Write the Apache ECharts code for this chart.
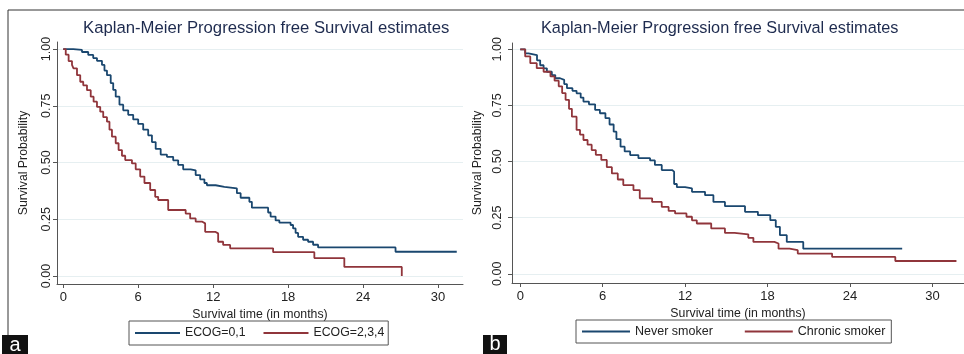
<!DOCTYPE html>
<html>
<head>
<meta charset="utf-8">
<script src="https://cdn.jsdelivr.net/npm/echarts@6/dist/echarts.min.js"></script>
<style>
  html, body { margin: 0; padding: 0; background: #fff; }
  #chart { width: 964px; height: 354px; }
</style>
</head>
<body>
<div id="chart"></div>
<script>
// 读图估计的 KM 阶梯点 (月, 生存概率)
const ecogLowTime = [0, 0.8, 1.5, 2.0, 2.4, 2.7, 3.1, 3.3, 3.5, 3.8, 4.0, 4.2, 4.5, 4.8, 5.2, 5.6, 6.0, 6.4, 6.8, 7.1, 7.4, 7.8, 8.3, 8.8, 9.2, 9.6, 10.2, 10.6, 10.96, 11.3, 11.5, 12.2, 12.9, 13.9, 14.2, 14.9, 15.1, 16.4, 16.6, 17.0, 17.3, 18.2, 18.4, 18.6, 18.8, 19.2, 19.6, 20.0, 20.4, 26.6, 31.5]
const ecogLowSurv = [1.0, 0.996, 0.987, 0.974, 0.96, 0.948, 0.93, 0.905, 0.885, 0.85, 0.82, 0.79, 0.755, 0.73, 0.71, 0.69, 0.67, 0.645, 0.62, 0.59, 0.56, 0.535, 0.525, 0.51, 0.49, 0.47, 0.466, 0.445, 0.426, 0.41, 0.4, 0.393, 0.386, 0.365, 0.345, 0.327, 0.301, 0.28, 0.262, 0.245, 0.235, 0.225, 0.21, 0.19, 0.173, 0.16, 0.151, 0.138, 0.126, 0.107, 0.107]

const ecogHighTime = [0, 0.2, 0.43, 0.7, 0.82, 1.1, 1.36, 1.6, 1.9, 2.2, 2.43, 2.7, 2.96, 3.2, 3.5, 3.7, 3.9, 4.2, 4.43, 4.7, 4.96, 5.5, 5.8, 6.16, 6.5, 6.96, 7.36, 7.6, 8.4, 9.8, 10.16, 10.6, 11.1, 11.36, 12.16, 12.4, 12.8, 13.36, 16.8, 20.1, 22.5, 27.1]
const ecogHighSurv = [1.0, 0.975, 0.947, 0.93, 0.915, 0.885, 0.856, 0.84, 0.819, 0.79, 0.768, 0.745, 0.724, 0.7, 0.68, 0.645, 0.614, 0.585, 0.555, 0.53, 0.511, 0.496, 0.47, 0.438, 0.41, 0.379, 0.349, 0.335, 0.291, 0.275, 0.254, 0.24, 0.232, 0.195, 0.188, 0.151, 0.137, 0.122, 0.105, 0.079, 0.04, 0.0]

const neverTime = [0, 0.36, 0.6, 1.22, 1.45, 1.7, 1.94, 2.3, 2.55, 2.9, 3.2, 3.4, 3.8, 4.1, 4.4, 4.6, 5.0, 5.45, 5.8, 6.2, 6.5, 6.8, 7.0, 7.3, 7.6, 8.0, 8.6, 9.45, 9.8, 10.3, 11.05, 11.2, 11.4, 12.0, 12.5, 13.45, 14.06, 14.9, 16.36, 17.3, 18.2, 18.6, 18.9, 19.4, 20.6, 27.8]
const neverSurv = [1.0, 0.982, 0.974, 0.951, 0.929, 0.915, 0.9, 0.885, 0.871, 0.864, 0.845, 0.827, 0.815, 0.804, 0.785, 0.767, 0.755, 0.73, 0.715, 0.693, 0.665, 0.633, 0.6, 0.566, 0.545, 0.529, 0.515, 0.505, 0.485, 0.462, 0.455, 0.4, 0.386, 0.38, 0.365, 0.35, 0.32, 0.301, 0.276, 0.261, 0.239, 0.209, 0.172, 0.142, 0.112, 0.112]

const chronicTime = [0, 0.36, 0.73, 1.2, 1.7, 2.2, 2.5, 2.8, 3.05, 3.3, 3.55, 3.76, 4.1, 4.35, 4.6, 4.9, 5.2, 5.5, 5.9, 6.3, 6.67, 7.1, 7.5, 8.24, 8.7, 9.6, 10.3, 10.8, 11.27, 12.1, 12.5, 12.85, 13.9, 14.9, 15.6, 16.6, 16.97, 18.5, 18.8, 19.6, 20.2, 22.7, 27.3, 31.75]
const chronicSurv = [1.0, 0.968, 0.938, 0.916, 0.9, 0.879, 0.86, 0.835, 0.805, 0.775, 0.735, 0.7, 0.641, 0.62, 0.596, 0.575, 0.551, 0.53, 0.507, 0.475, 0.447, 0.42, 0.395, 0.373, 0.336, 0.32, 0.298, 0.28, 0.269, 0.254, 0.238, 0.224, 0.202, 0.182, 0.176, 0.16, 0.142, 0.135, 0.112, 0.105, 0.09, 0.075, 0.057, 0.057]

const xTicks = [0, 6, 12, 18, 24, 30]
const yTicks = [0, 0.25, 0.5, 0.75, 1]

const titleText = 'Kaplan-Meier Progression free Survival estimates'
const xName = 'Survival time (in months)'
const yName = 'Survival Probability'

const NAVY = '#1a476f'
const MAROON = '#90353b'
const FONT = "'Liberation Sans', Arial, sans-serif"

function pairs(t, s) {
  return t.map((v, i) => [v, s[i]])
}

function makeX(idx, min, max) {
  return {
    gridIndex: idx,
    type: 'value',
    min: min,
    max: max,
    name: xName,
    nameLocation: 'middle',
    nameGap: 24,
    nameTextStyle: { color: '#222', fontSize: 12.3, fontFamily: FONT },
    axisLine: { show: true, onZero: false, lineStyle: { color: '#555', width: 1 } },
    axisTick: { show: true, length: 4, customValues: xTicks, lineStyle: { color: '#555' } },
    axisLabel: { customValues: xTicks, margin: 7, color: '#222', fontSize: 13, fontFamily: FONT },
    splitLine: { show: false },
  }
}

function makeY(idx, min, max, gap, margin) {
  return {
    gridIndex: idx,
    type: 'value',
    min: min,
    max: max,
    name: yName,
    nameLocation: 'middle',
    nameRotate: 90,
    nameGap: gap,
    nameTextStyle: { color: '#222', fontSize: 12.3, fontFamily: FONT },
    axisLine: { show: true, onZero: false, lineStyle: { color: '#555', width: 1 } },
    axisTick: { show: true, length: 4, customValues: yTicks, lineStyle: { color: '#555' } },
    axisLabel: {
      customValues: yTicks,
      rotate: 90,
      margin: margin,
      color: '#222',
      fontSize: 12.5,
      fontFamily: FONT,
      formatter: (v) => v.toFixed(2),
    },
    splitLine: { show: true, customValues: yTicks, lineStyle: { color: '#e6eff1', width: 1 } },
  }
}

function makeLine(name, data, color, idx) {
  return {
    name: name,
    type: 'line',
    step: 'end',
    xAxisIndex: idx,
    yAxisIndex: idx,
    data: data,
    color: color,
    symbol: 'none',
    showSymbol: false,
    lineStyle: { color: color, width: 1.8 },
  }
}

const chart = echarts.init(document.getElementById('chart'))

const option = {
  animation: false,
  backgroundColor: '#fff',
  title: [
    { text: titleText, left: 78, top: 15, textStyle: { color: '#1e2b4f', fontSize: 16.7, fontWeight: 'normal', fontFamily: FONT } },
    { text: titleText, left: 536, top: 16, textStyle: { color: '#1e2b4f', fontSize: 16.3, fontWeight: 'normal', fontFamily: FONT } },
  ],
  grid: [
    { left: 57, right: 501, top: 42, bottom: 70, outerBoundsMode: 'none' },
    { left: 512, right: 0, top: 43, bottom: 71, outerBoundsMode: 'none' },
  ],
  xAxis: [makeX(0, -0.5, 32), makeX(1, -0.6, 32.3)],
  yAxis: [makeY(0, -0.035, 1.031, 27, 4), makeY(1, -0.041, 1.028, 28, 8)],
  legend: [
    {
      data: ['ECOG=0,1', 'ECOG=2,3,4'],
      left: 129,
      top: 321,
      padding: [6, 4, 6, 6],
      itemWidth: 45,
      itemHeight: 2,
      itemGap: 18,
      icon: 'rect',
      borderColor: '#555',
      borderWidth: 1,
      textStyle: { color: '#222', fontSize: 12.3, fontFamily: FONT },
    },
    {
      data: ['Never smoker', 'Chronic smoker'],
      left: 576,
      top: 320,
      padding: [5, 6, 5, 6],
      itemWidth: 48,
      itemHeight: 2,
      itemGap: 32,
      icon: 'rect',
      borderColor: '#555',
      borderWidth: 1,
      textStyle: { color: '#222', fontSize: 12.5, fontFamily: FONT },
    },
  ],
  series: [
    makeLine('ECOG=0,1', pairs(ecogLowTime, ecogLowSurv), NAVY, 0),
    makeLine('ECOG=2,3,4', pairs(ecogHighTime, ecogHighSurv), MAROON, 0),
    makeLine('Never smoker', pairs(neverTime, neverSurv), NAVY, 1),
    makeLine('Chronic smoker', pairs(chronicTime, chronicSurv), MAROON, 1),
  ],
  graphic: [
    // 外框 (上, 左)
    { type: 'line', shape: { x1: 8, y1: 10, x2: 964, y2: 10 }, style: { stroke: '#333', lineWidth: 1 }, silent: true },
    { type: 'line', shape: { x1: 8, y1: 10, x2: 8, y2: 335 }, style: { stroke: '#333', lineWidth: 1 }, silent: true },
    // 面板字母
    { type: 'rect', shape: { x: 2, y: 335, width: 26, height: 19 }, style: { fill: '#111' }, silent: true },
    { type: 'text', x: 15, y: 345, style: { text: 'a', fill: '#fff', fontSize: 20, fontFamily: FONT, align: 'center', verticalAlign: 'middle' }, silent: true },
    { type: 'rect', shape: { x: 483, y: 335, width: 24, height: 19 }, style: { fill: '#111' }, silent: true },
    { type: 'text', x: 495, y: 344, style: { text: 'b', fill: '#fff', fontSize: 20, fontFamily: FONT, align: 'center', verticalAlign: 'middle' }, silent: true },
  ],
}

chart.setOption(option)
</script>
</body>
</html>
